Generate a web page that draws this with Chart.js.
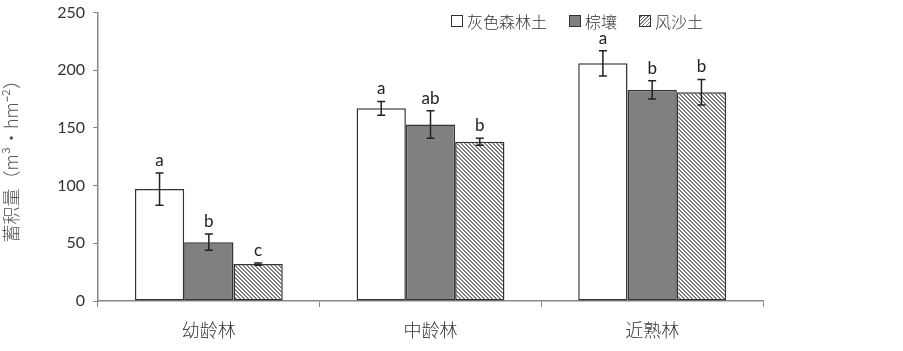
<!DOCTYPE html>
<html><head><meta charset="utf-8">
<script src="https://cdn.jsdelivr.net/npm/chart.js@4.4.1/dist/chart.umd.min.js"></script>
<style>
html,body{margin:0;padding:0;background:#fff;overflow:hidden;}
#wrap{position:relative;width:903px;height:351px;overflow:hidden;}
#c{position:absolute;left:0;top:-5px;}
#legend{position:absolute;left:451px;top:9px;display:flex;align-items:center;font-family:"Noto Sans CJK SC",sans-serif;font-size:16px;color:#333;font-weight:300;}
#legend span.it{display:flex;align-items:center;margin-right:22px;}
#legend i{display:inline-block;width:10px;height:10px;border:1.5px solid #333;margin-right:4px;}
</style></head>
<body><div id="wrap"><canvas id="c" width="903" height="356"></canvas><div id="legend"></div></div>
<script>
const categories = ["幼龄林", "中龄林", "近熟林"];
const seriesNames = ["灰色森林土", "棕壤", "风沙土"];
// one array per soil type, across the three age classes
const greyForest = [97, 167, 206];
const greyForestErr = [14, 6, 11];
const greyForestLetters = ["a", "a", "a"];
const brownEarth = [51, 153, 183];
const brownEarthErr = [7, 12, 8];
const brownEarthLetters = ["b", "ab", "b"];
const sandy = [32, 138, 181];
const sandyErr = [1, 3, 11];
const sandyLetters = ["c", "b", "b"];
const yTicks = [0, 50, 100, 150, 200, 250];
const yTitle = "蓄积量（m³•hm⁻²）";

const seriesValues = [greyForest, brownEarth, sandy];
const seriesErrs = [greyForestErr, brownEarthErr, sandyErr];
const seriesLetters = [greyForestLetters, brownEarthLetters, sandyLetters];

function hatch(){
  const t=document.createElement('canvas');t.width=4;t.height=4;
  const g=t.getContext('2d');g.fillStyle='#fff';g.fillRect(0,0,4,4);
  g.fillStyle='#808080';
  for(let i=0;i<4;i++){g.fillRect(i,i,1,1);g.fillRect((i+1)%4,i,1,1);}
  return g.createPattern(t,'repeat');
}
const ctx=document.getElementById('c').getContext('2d');
const fills=['#ffffff','#808080',hatch()];

const lg=document.getElementById('legend');
const legBg=['#fff','#808080','repeating-linear-gradient(-45deg,#777 0 1px,#fff 1px 2.5px)'];
seriesNames.forEach((n,i)=>{
  const s=document.createElement('span');s.className='it';
  const b=document.createElement('i');b.style.background=legBg[i];
  s.appendChild(b);s.appendChild(document.createTextNode(n));lg.appendChild(s);
});

const errPlugin={
  id:'err',
  afterDatasetsDraw(chart){
    const c=chart.ctx;const y=chart.scales.y;
    chart.data.datasets.forEach((ds,di)=>{
      const meta=chart.getDatasetMeta(di);
      meta.data.forEach((bar,i)=>{
        const v=ds.data[i],e=seriesErrs[di][i];
        const x=bar.x,yt=y.getPixelForValue(v+e),yb=y.getPixelForValue(v-e);
        c.save();c.strokeStyle='#222';c.lineWidth=1.5;
        c.beginPath();c.moveTo(x,yt);c.lineTo(x,yb);
        c.moveTo(x-4,yt);c.lineTo(x+4,yt);c.moveTo(x-4,yb);c.lineTo(x+4,yb);c.stroke();
        c.fillStyle='#222';c.font='17px Lato, "Open Sans", sans-serif';
        c.textAlign='center';c.textBaseline='bottom';
        c.fillText(seriesLetters[di][i],x,yt-4);
        c.restore();
      });
    });
  }
};

new Chart(ctx,{
  type:'bar',
  data:{labels:categories,datasets:seriesNames.map((n,i)=>({
    label:n,data:seriesValues[i],backgroundColor:fills[i],borderColor:'#333',borderWidth:1.5,borderSkipped:false,
    barPercentage:1.0,categoryPercentage:0.667
  }))},
  options:{
    responsive:false,animation:false,
    layout:{padding:{left:0,right:140,top:8,bottom:0}},
    plugins:{legend:{display:false},tooltip:{enabled:false}},
    scales:{
      x:{grid:{offset:true,drawOnChartArea:false,tickLength:6,color:'#888'},border:{color:'#888',width:1.5},
        ticks:{color:'#333',padding:12,font:{family:'"Noto Sans CJK SC"',size:18,weight:300}},
        afterFit(s){s.height=50;}},
      y:{min:0,max:250,afterBuildTicks(s){s.ticks=yTicks.map(v=>({value:v}));},
        grid:{drawOnChartArea:false,tickLength:5,color:'#888'},border:{color:'#888',width:1.5},
        ticks:{color:'#333',padding:8,font:{family:'Lato, "Open Sans", sans-serif',size:16}},
        title:{display:true,text:yTitle,color:'#555',padding:{top:0,bottom:3},font:{family:'"Noto Sans CJK SC"',size:18,weight:300}},
        afterFit(s){s.width=98;}}
    }
  },
  plugins:[errPlugin]
});
</script></body></html>
